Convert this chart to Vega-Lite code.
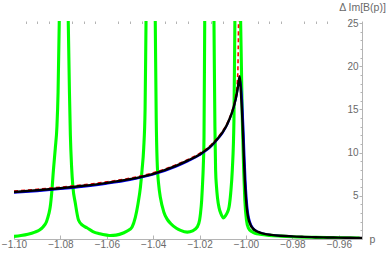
{
  "$schema": "https://vega.github.io/schema/vega-lite/v6.json",
  "width": 348,
  "height": 218,
  "autosize": "none",
  "padding": {"left": 14, "top": 21, "right": 27, "bottom": 18},
  "background": "white",
  "config": {
    "view": {"stroke": null},
    "font": "Liberation Sans",
    "axis": {"grid": false, "labelFont": "Liberation Sans", "titleFont": "Liberation Sans", "labelColor": "#6a6a6a", "titleColor": "#6a6a6a", "domainColor": "#b4b4b4", "tickColor": "#b4b4b4", "labelFontSize": 10, "titleFontSize": 10.5, "titleFontWeight": "normal"}
  },
  "datasets": {
    "green": [
      {"x": -1.1000, "y": 0.30}, {"x": -1.0970, "y": 0.40}, {"x": -1.0940, "y": 0.55}, {"x": -1.0910, "y": 0.80},
      {"x": -1.0890, "y": 1.05}, {"x": -1.0875, "y": 1.40}, {"x": -1.0860, "y": 2.00}, {"x": -1.0850, "y": 2.90},
      {"x": -1.0844, "y": 3.70}, {"x": -1.0837, "y": 5.50}, {"x": -1.0830, "y": 8.00}, {"x": -1.0822, "y": 10.5},
      {"x": -1.0815, "y": 13.0}, {"x": -1.0810, "y": 17.0}, {"x": -1.0805, "y": 25.0}, {"x": -1.0797, "y": 45},
      {"x": -1.0786, "y": 70}, {"x": -1.0775, "y": 45}, {"x": -1.0766, "y": 25.0}, {"x": -1.0761, "y": 17.0},
      {"x": -1.0757, "y": 12.0}, {"x": -1.0752, "y": 8.5}, {"x": -1.0746, "y": 6.0}, {"x": -1.0736, "y": 4.2},
      {"x": -1.0722, "y": 2.2}, {"x": -1.0705, "y": 1.6}, {"x": -1.0686, "y": 1.3}, {"x": -1.0660, "y": 0.85},
      {"x": -1.0630, "y": 0.60}, {"x": -1.0600, "y": 0.45}, {"x": -1.0585, "y": 0.40}, {"x": -1.0560, "y": 0.45},
      {"x": -1.0529, "y": 0.70}, {"x": -1.0510, "y": 0.95}, {"x": -1.0491, "y": 1.40}, {"x": -1.0477, "y": 2.50},
      {"x": -1.0466, "y": 4.0}, {"x": -1.0455, "y": 6.0}, {"x": -1.0448, "y": 8.0}, {"x": -1.0441, "y": 10.5},
      {"x": -1.0435, "y": 15}, {"x": -1.0431, "y": 25}, {"x": -1.0422, "y": 45}, {"x": -1.0411, "y": 70},
      {"x": -1.0400, "y": 45}, {"x": -1.0391, "y": 25}, {"x": -1.0387, "y": 14}, {"x": -1.0383, "y": 9.0},
      {"x": -1.0376, "y": 6.2}, {"x": -1.0369, "y": 4.8}, {"x": -1.0354, "y": 3.1}, {"x": -1.0340, "y": 2.3},
      {"x": -1.0325, "y": 1.8}, {"x": -1.0300, "y": 1.25}, {"x": -1.0282, "y": 1.00}, {"x": -1.0253, "y": 0.80},
      {"x": -1.0230, "y": 0.95}, {"x": -1.0210, "y": 1.40}, {"x": -1.0200, "y": 2.2}, {"x": -1.0196, "y": 3.0},
      {"x": -1.0191, "y": 4.5}, {"x": -1.0188, "y": 6.0}, {"x": -1.0184, "y": 8.5}, {"x": -1.0181, "y": 11.8},
      {"x": -1.0178, "y": 25}, {"x": -1.0168, "y": 45}, {"x": -1.0158, "y": 70}, {"x": -1.0148, "y": 45},
      {"x": -1.0138, "y": 25}, {"x": -1.0134, "y": 13}, {"x": -1.0131, "y": 8.0}, {"x": -1.0127, "y": 6.0},
      {"x": -1.0123, "y": 4.8}, {"x": -1.0116, "y": 3.6}, {"x": -1.0109, "y": 3.0}, {"x": -1.0097, "y": 2.45},
      {"x": -1.0088, "y": 2.7}, {"x": -1.0080, "y": 3.1}, {"x": -1.0073, "y": 3.7}, {"x": -1.0066, "y": 5.3},
      {"x": -1.0059, "y": 8.0}, {"x": -1.0052, "y": 13.7}, {"x": -1.0048, "y": 25}, {"x": -1.0042, "y": 45},
      {"x": -1.0036, "y": 70}, {"x": -1.0030, "y": 45}, {"x": -1.0023, "y": 25}, {"x": -1.0016, "y": 14},
      {"x": -1.0010, "y": 8.0}, {"x": -1.0005, "y": 4.5}, {"x": -0.9998, "y": 2.2}, {"x": -0.9990, "y": 1.3},
      {"x": -0.9975, "y": 0.85}, {"x": -0.9960, "y": 0.65}, {"x": -0.9940, "y": 0.55}, {"x": -0.9900, "y": 0.42},
      {"x": -0.9850, "y": 0.33}, {"x": -0.9800, "y": 0.26}, {"x": -0.9700, "y": 0.19}, {"x": -0.9600, "y": 0.15},
      {"x": -0.9510, "y": 0.12}
    ],
    "black": [
      {"x": -1.100, "y": 5.44}, {"x": -1.090, "y": 5.64}, {"x": -1.080, "y": 5.88}, {"x": -1.070, "y": 6.16},
      {"x": -1.060, "y": 6.50}, {"x": -1.050, "y": 6.93}, {"x": -1.040, "y": 7.55}, {"x": -1.030, "y": 8.5},
      {"x": -1.025, "y": 9.1}, {"x": -1.020, "y": 9.8}, {"x": -1.015, "y": 10.8}, {"x": -1.012, "y": 11.7},
      {"x": -1.010, "y": 12.4}, {"x": -1.008, "y": 13.35}, {"x": -1.006, "y": 14.7}, {"x": -1.005, "y": 15.6},
      {"x": -1.004, "y": 16.8}, {"x": -1.0035, "y": 17.6}, {"x": -1.0030, "y": 18.5}, {"x": -1.0027, "y": 18.85},
      {"x": -1.0022, "y": 17.0}, {"x": -1.0015, "y": 13.5}, {"x": -1.0010, "y": 10.0}, {"x": -1.0005, "y": 6.8},
      {"x": -1.0000, "y": 4.6}, {"x": -0.9995, "y": 3.2}, {"x": -0.9990, "y": 2.4}, {"x": -0.9980, "y": 1.6},
      {"x": -0.9970, "y": 1.2}, {"x": -0.9955, "y": 0.9}, {"x": -0.9940, "y": 0.75}, {"x": -0.9920, "y": 0.6},
      {"x": -0.9890, "y": 0.48}, {"x": -0.9850, "y": 0.38}, {"x": -0.9800, "y": 0.30}, {"x": -0.9750, "y": 0.25},
      {"x": -0.9700, "y": 0.21}, {"x": -0.9650, "y": 0.18}, {"x": -0.9600, "y": 0.16}, {"x": -0.9550, "y": 0.14},
      {"x": -0.9500, "y": 0.13}
    ],
    "red": [
      {"x": -1.100, "y": 5.56}, {"x": -1.090, "y": 5.76}, {"x": -1.080, "y": 6.0}, {"x": -1.070, "y": 6.28},
      {"x": -1.060, "y": 6.62}, {"x": -1.050, "y": 7.05}, {"x": -1.040, "y": 7.67}, {"x": -1.030, "y": 8.62},
      {"x": -1.025, "y": 9.22}, {"x": -1.020, "y": 9.92}, {"x": -1.015, "y": 10.92}, {"x": -1.012, "y": 11.82},
      {"x": -1.010, "y": 12.52}, {"x": -1.008, "y": 13.47}, {"x": -1.006, "y": 14.82}, {"x": -1.005, "y": 15.72},
      {"x": -1.0045, "y": 16.5}, {"x": -1.0040, "y": 17.3}, {"x": -1.0037, "y": 18.3}, {"x": -1.0035, "y": 19.5},
      {"x": -1.0034, "y": 21.0}, {"x": -1.0033, "y": 23.0}, {"x": -1.0032, "y": 26.0}
    ],
    "blue": [
      {"x": -1.100, "y": 5.32}, {"x": -1.090, "y": 5.52}, {"x": -1.080, "y": 5.76}, {"x": -1.070, "y": 6.04},
      {"x": -1.060, "y": 6.38}, {"x": -1.050, "y": 6.81}, {"x": -1.040, "y": 7.43}, {"x": -1.030, "y": 8.38},
      {"x": -1.025, "y": 8.98}, {"x": -1.020, "y": 9.68}, {"x": -1.015, "y": 10.68}, {"x": -1.012, "y": 11.58},
      {"x": -1.010, "y": 12.28}, {"x": -1.008, "y": 13.23}, {"x": -1.006, "y": 14.58}, {"x": -1.005, "y": 15.48},
      {"x": -1.004, "y": 16.6}, {"x": -1.0035, "y": 17.4}, {"x": -1.0030, "y": 18.2}, {"x": -1.0026, "y": 18.5},
      {"x": -1.0018, "y": 17.0}, {"x": -1.0011, "y": 13.5}, {"x": -1.0006, "y": 10.0}, {"x": -1.0001, "y": 6.8},
      {"x": -0.9996, "y": 4.6}, {"x": -0.9991, "y": 3.2}, {"x": -0.9986, "y": 2.4}, {"x": -0.9976, "y": 1.6},
      {"x": -0.9966, "y": 1.2}, {"x": -0.9951, "y": 0.9}, {"x": -0.9936, "y": 0.75}, {"x": -0.9916, "y": 0.6},
      {"x": -0.9886, "y": 0.48}, {"x": -0.9850, "y": 0.38}, {"x": -0.9800, "y": 0.30}
    ]
  },
  "layer": [
    {
      "data": {"name": "green"},
      "mark": {"type": "line", "color": "#00ff00", "strokeWidth": 3.1, "clip": true, "interpolate": "monotone"},
      "encoding": {
        "x": {"field": "x", "type": "quantitative", "scale": {"domain": [-1.10, -0.95], "nice": false, "zero": false},
          "axis": {"values": [-1.10, -1.08, -1.06, -1.04, -1.02, -1.00, -0.98, -0.96], "format": ".2f", "tickSize": -4, "labelPadding": 4, "labelOverlap": false, "labelFlush": false,
            "title": "p", "titleX": 355, "titleY": 3, "titleAlign": "left", "titleBaseline": "alphabetic", "titleAnchor": null}},
        "y": {"field": "y", "type": "quantitative", "scale": {"domain": [0, 25.25], "nice": false, "zero": false},
          "axis": {"orient": "left", "offset": -348, "values": [5, 10, 15, 20, 25], "tickSize": 3, "labelPadding": 1, "labelOverlap": false, "labelFlush": false,
            "title": "Δ Im[B(p)]", "titleAngle": 0, "titleX": 0, "titleY": -11, "titleAlign": "center", "titleBaseline": "alphabetic", "titleAnchor": null}}
      }
    },
    {
      "data": {"name": "blue"},
      "mark": {"type": "line", "color": "#0000ff", "strokeWidth": 1.6, "clip": true, "interpolate": "monotone"},
      "encoding": {
        "x": {"field": "x", "type": "quantitative", "axis": null},
        "y": {"field": "y", "type": "quantitative", "axis": null}
      }
    },
    {
      "data": {"name": "red"},
      "mark": {"type": "line", "color": "#ff0000", "strokeWidth": 1.6, "strokeDash": [4, 3], "clip": true, "interpolate": "monotone"},
      "encoding": {
        "x": {"field": "x", "type": "quantitative", "axis": null},
        "y": {"field": "y", "type": "quantitative", "axis": null}
      }
    },
    {
      "data": {"name": "black"},
      "mark": {"type": "line", "color": "#000000", "strokeWidth": 2.4, "clip": true, "interpolate": "monotone"},
      "encoding": {
        "x": {"field": "x", "type": "quantitative",
          "axis": {"values": [-1.095, -1.09, -1.085, -1.075, -1.07, -1.065, -1.055, -1.05, -1.045, -1.035, -1.03, -1.025, -1.015, -1.01, -1.005, -0.995, -0.99, -0.985, -0.975, -0.97, -0.965, -0.955], "labels": false, "domain": false, "tickSize": -2.5, "title": null}},
        "y": {"field": "y", "type": "quantitative",
          "axis": {"orient": "left", "offset": -348, "values": [1, 2, 3, 4, 6, 7, 8, 9, 11, 12, 13, 14, 16, 17, 18, 19, 21, 22, 23, 24], "labels": false, "domain": false, "tickSize": 2, "title": null}}
      }
    }
  ],
  "resolve": {"axis": {"x": "independent", "y": "independent"}}
}
